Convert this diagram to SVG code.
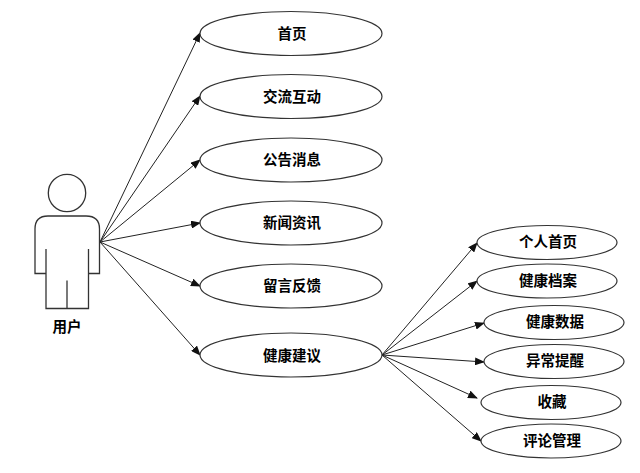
<svg xmlns="http://www.w3.org/2000/svg" width="640" height="473" viewBox="0 0 640 473">
<style>
.n{fill:#fff;stroke:#333;stroke-width:1.2}
.b{fill:none;stroke:#333;stroke-width:1.3}
.c{fill:none;stroke:#222;stroke-width:1;marker-end:url(#a)}
text{font-family:"Noto Sans CJK SC","Liberation Sans",sans-serif;font-size:14.5px;font-weight:700;fill:#000;text-anchor:middle}
</style>
<defs><marker id="a" markerUnits="userSpaceOnUse" markerWidth="10" markerHeight="8" refX="9" refY="4" orient="auto"><path d="M0 0L10 4L0 8Z" fill="#111"/></marker></defs>
<rect width="640" height="473" fill="#fff"/>
<g id="connectors">
<path class="c" d="M100 242L200 33"/>
<path class="c" d="M100 242L200 96"/>
<path class="c" d="M100 242L200 160"/>
<path class="c" d="M100 242L200 223"/>
<path class="c" d="M100 242L200 286"/>
<path class="c" d="M100 242L200 355"/>
<path class="c" d="M382 355L477 243"/>
<path class="c" d="M382 355L477 281"/>
<path class="c" d="M382 355L484 323"/>
<path class="c" d="M382 355L484 362"/>
<path class="c" d="M382 355L477 398"/>
<path class="c" d="M382 355L481 441"/>
</g>
<g id="user">
<circle class="b" cx="67" cy="193" r="18.7"/>
<path class="b" d="M46 273.500H35V229Q35 216 48 216H86Q99.500 216 99.500 229V273.500H88.500M46 249V308.500H88.500V249M67 280.500V308.500"/>
<text x="67" y="332">用户</text>
</g>
<g id="n1"><ellipse class="n" cx="291" cy="33.500" rx="91" ry="22"/><text x="292" y="39">首页</text></g>
<g id="n2"><ellipse class="n" cx="291" cy="96.500" rx="91" ry="22"/><text x="292" y="102">交流互动</text></g>
<g id="n3"><ellipse class="n" cx="291" cy="160" rx="91" ry="22"/><text x="292" y="165">公告消息</text></g>
<g id="n4"><ellipse class="n" cx="291" cy="223" rx="91" ry="22"/><text x="292" y="228">新闻资讯</text></g>
<g id="n5"><ellipse class="n" cx="291" cy="286" rx="91" ry="22"/><text x="292" y="291">留言反馈</text></g>
<g id="n6"><ellipse class="n" cx="291" cy="355" rx="91" ry="22"/><text x="292" y="361">健康建议</text></g>
<g id="n7"><ellipse class="n" cx="547" cy="242.500" rx="70" ry="17"/><text x="548" y="247">个人首页</text></g>
<g id="n8"><ellipse class="n" cx="547" cy="281" rx="70" ry="17"/><text x="548" y="286">健康档案</text></g>
<g id="n9"><ellipse class="n" cx="554" cy="322.500" rx="70" ry="17"/><text x="555" y="327">健康数据</text></g>
<g id="n10"><ellipse class="n" cx="554" cy="361.500" rx="70" ry="17"/><text x="555" y="366">异常提醒</text></g>
<g id="n11"><ellipse class="n" cx="551" cy="402.500" rx="70" ry="17"/><text x="552" y="407">收藏</text></g>
<g id="n12"><ellipse class="n" cx="551" cy="441" rx="70" ry="17"/><text x="552" y="446">评论管理</text></g>
</svg>
